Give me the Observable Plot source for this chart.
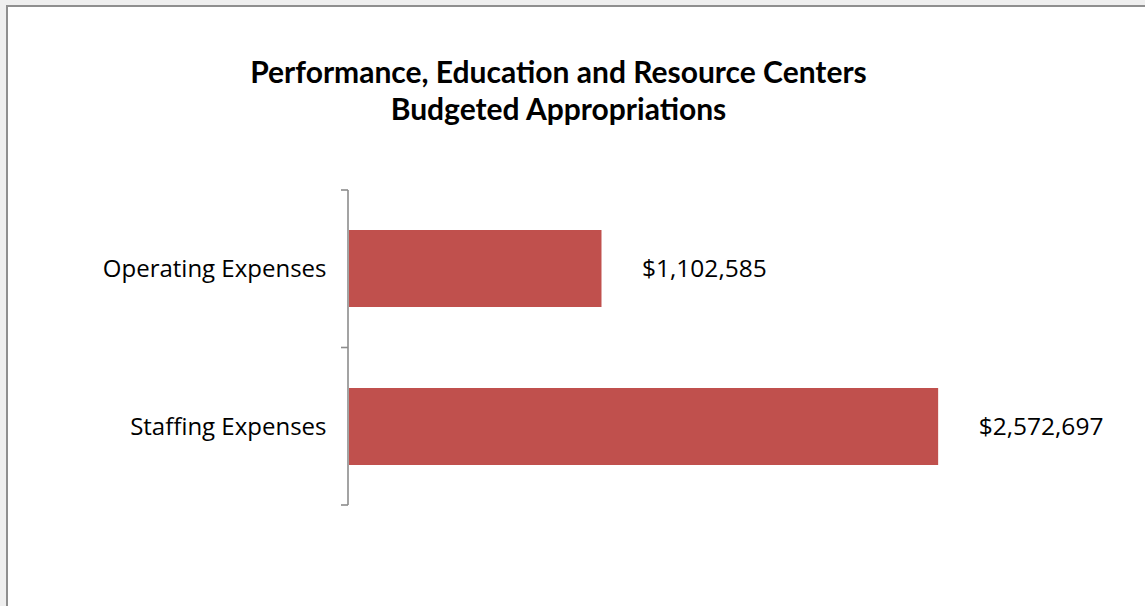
<!DOCTYPE html>
<html>
<head>
<meta charset="utf-8">
<script src="https://cdn.jsdelivr.net/npm/d3@7"></script>
<script src="https://cdn.jsdelivr.net/npm/@observablehq/plot@0.6"></script>
<style>
  html, body { margin: 0; padding: 0; width: 1145px; height: 606px; overflow: hidden; background: #efefef; }
  #box { position: absolute; left: 6px; top: 5px; width: 1200px; height: 700px; background: #fff; border: 2px solid #8f8f8f; box-sizing: border-box; }
  #wrap { position: absolute; left: 0; top: 0; width: 1145px; height: 606px; }
  #title { position: absolute; left: 0; top: 0; width: 1117px; text-align: center; font-family: Lato, sans-serif; font-weight: 700; font-size: 30px; line-height: 37px; color: #000; padding-top: 53px; height: 77px; }
  #chart { position: absolute; left: 0; top: 130px; }
</style>
</head>
<body>
<div id="box"></div>
<div id="wrap">
  <div id="title">Performance, Education and Resource Centers<br>Budgeted Appropriations</div>
  <div id="chart"></div>
</div>
<script>
const categories = ["Operating Expenses", "Staffing Expenses"];
const values = [1102585, 2572697];
const valueLabels = ["$1,102,585", "$2,572,697"];

const data = categories.map((c, i) => ({category: c, value: values[i], label: valueLabels[i]}));

// Category-boundary ticks and axis line (Excel style), derived from the frame
function bandTicks() {
  return (index, scales, vals, dims) => {
    const top = dims.marginTop, bottom = dims.height - dims.marginBottom;
    const n = categories.length;
    const bounds = d3.range(n + 1).map(i => top + (i * (bottom - top)) / n);
    const x0 = dims.marginLeft - 1;
    const g = d3.create("svg:g").attr("stroke", "#8c8c8c").attr("stroke-width", 1.6).attr("fill", "none");
    g.append("line").attr("x1", x0).attr("x2", x0).attr("y1", top).attr("y2", bottom);
    for (const b of bounds) g.append("line").attr("x1", x0 - 7).attr("x2", x0).attr("y1", b).attr("y2", b);
    return g.node();
  };
}

const plot = Plot.plot({
  width: 1145,
  height: 476,
  marginLeft: 349,
  marginRight: 109,
  marginTop: 60,
  marginBottom: 101,
  style: { fontFamily: "'Open Sans', sans-serif", background: "transparent", color: "#000" },
  x: { domain: [0, 3000000], axis: null },
  y: { domain: categories, paddingInner: 0.51, paddingOuter: 0.25, label: null },
  marks: [
    Plot.barX(data, { x: "value", y: "category", fill: "#c0504d" }),
    Plot.axisY({ tickSize: 0, tickPadding: 23, fontSize: 24, label: null, fill: "#000" }),
    bandTicks(),
    Plot.text(data, { x: "value", y: "category", text: "label", dx: 40, textAnchor: "start", fontSize: 24.5, fill: "#000" })
  ]
});
document.getElementById("chart").appendChild(plot);
</script>
</body>
</html>
